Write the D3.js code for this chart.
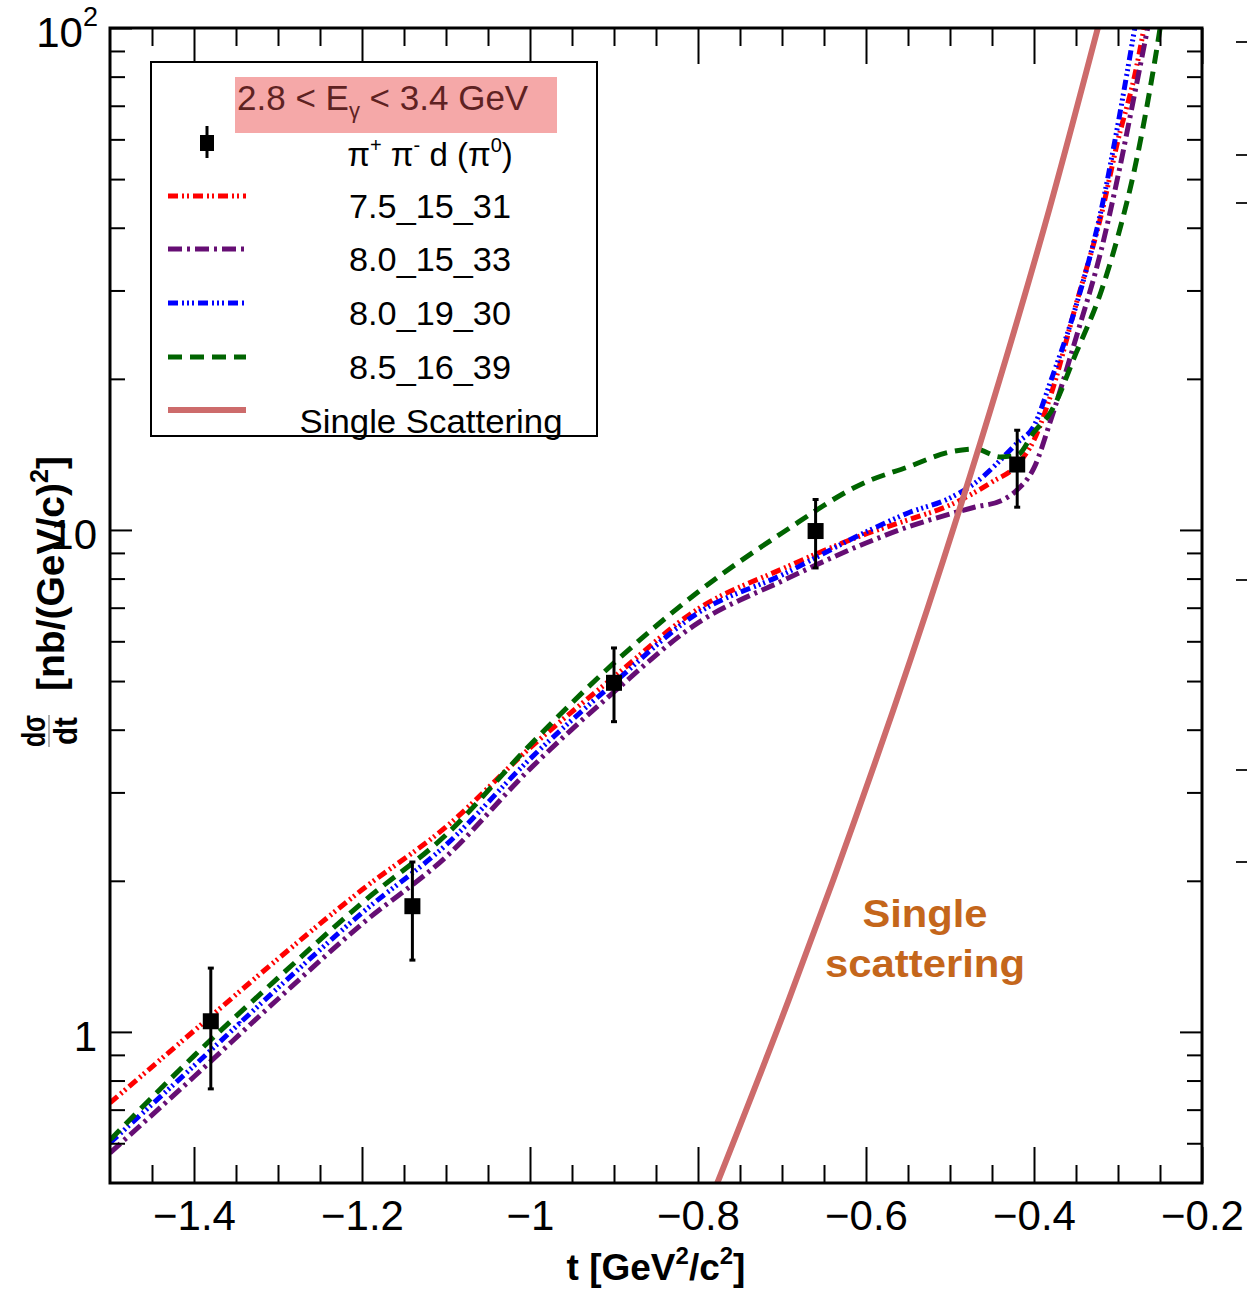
<!DOCTYPE html>
<html>
<head>
<meta charset="utf-8">
<script src="https://cdn.jsdelivr.net/npm/d3@7"></script>
<style>
  body { margin: 0; background: #fff; }
  svg { display: block; }
</style>
</head>
<body>
<div id="chart"></div>
<script>
// --- data ---
const tDomain = [-1.5, -0.2];
const yDomain = [0.5, 100];

const xTickValues = [-1.4, -1.2, -1, -0.8, -0.6, -0.4, -0.2];
const xTickLabels = ["\u22121.4", "\u22121.2", "\u22121", "\u22120.8", "\u22120.6", "\u22120.4", "\u22120.2"];
const yTickValues = [1, 10, 100];

// measured points pi+ pi- d (pi0)
const dataT = [-1.38, -1.14, -0.90, -0.66, -0.42];
const dataY = [1.05, 1.78, 4.96, 9.95, 13.5];
const dataLo = [0.77, 1.39, 4.15, 8.4, 11.1];
const dataHi = [1.34, 2.18, 5.82, 11.5, 15.8];

// model curves [t, dsigma/dt]
const model_7_5_15_31 = [[-1.5,0.722],[-1.4,1.005],[-1.3,1.398],[-1.2,1.919],[-1.1,2.561],[-1.0,3.679],[-0.9,5.096],[-0.8,6.96],[-0.7,8.36],[-0.6,9.82],[-0.55,10.47],[-0.5,11.21],[-0.45,12.46],[-0.42,13.48],[-0.4,15.11],[-0.38,18.57],[-0.35,28.1],[-0.32,42.4],[-0.3,59.8],[-0.28,80.6],[-0.26,121.8]];
const model_8_0_15_33 = [[-1.5,0.574],[-1.4,0.814],[-1.3,1.163],[-1.2,1.641],[-1.1,2.232],[-1.0,3.342],[-0.9,4.757],[-0.8,6.53],[-0.7,7.91],[-0.6,9.42],[-0.55,10.14],[-0.5,10.76],[-0.47,11.11],[-0.44,11.42],[-0.42,12.02],[-0.4,13.29],[-0.38,16.56],[-0.35,24.13],[-0.32,36.1],[-0.3,50.7],[-0.28,74.2],[-0.26,109.6]];
const model_8_0_19_30 = [[-1.5,0.601],[-1.4,0.856],[-1.3,1.224],[-1.2,1.726],[-1.1,2.358],[-1.0,3.498],[-0.9,4.958],[-0.8,6.834],[-0.7,8.136],[-0.6,9.91],[-0.55,10.81],[-0.5,11.58],[-0.47,12.41],[-0.42,14.91],[-0.4,16.12],[-0.38,19.81],[-0.35,27.94],[-0.32,43.4],[-0.3,64.4],[-0.28,100],[-0.26,156.7]];
const model_8_5_16_39 = [[-1.5,0.609],[-1.4,0.896],[-1.3,1.281],[-1.2,1.807],[-1.1,2.469],[-1.0,3.73],[-0.9,5.433],[-0.8,7.52],[-0.7,9.86],[-0.6,12.46],[-0.55,13.35],[-0.5,14.3],[-0.47,14.5],[-0.44,13.98],[-0.42,14.1],[-0.4,15.67],[-0.38,17.18],[-0.35,22.5],[-0.32,29.9],[-0.3,38.5],[-0.28,52.6],[-0.26,78.8],[-0.241,124.6]];
const singleScattering = [[-0.777,0.5],[-0.692,1.158],[-0.639,2.008],[-0.508,8.71],[-0.441,19.9],[-0.382,43.4],[-0.324,100]];

const seriesNames = ["7.5_15_31", "8.0_15_33", "8.0_19_30", "8.5_16_39"];

// --- setup ---
const W = 1247, H = 1290;
const FONT = "'Liberation Sans', Arial, Helvetica, sans-serif";
const plot = { left: 110, right: 1202, top: 28, bottom: 1183 };

const x = d3.scaleLinear().domain(tDomain).range([plot.left, plot.right]);
const y = d3.scaleLog().domain(yDomain).range([plot.bottom, plot.top]);

const svg = d3.select("#chart").append("svg")
    .attr("width", W).attr("height", H)
    .style("font-family", FONT);

svg.append("defs").append("clipPath").attr("id", "plotClip")
  .append("rect")
    .attr("x", plot.left).attr("y", plot.top)
    .attr("width", plot.right - plot.left).attr("height", plot.bottom - plot.top);

const series = [
    { data: model_7_5_15_31, color: "#ff0000", dash: "10,4,2,3,2,4" },
    { data: model_8_0_15_33, color: "#660e74", dash: "14,5,3,5" },
    { data: model_8_0_19_30, color: "#0000ff", dash: "10,4,2,3,2,3,2,4" },
    { data: model_8_5_16_39, color: "#006400", dash: "14,8" }
];
const ssColor = "#cd6b6b";

const line = d3.line().x(d => x(d[0])).y(d => y(d[1])).curve(d3.curveMonotoneX);

const gPlot = svg.append("g").attr("clip-path", "url(#plotClip)");

series.forEach(s => {
    gPlot.append("path")
        .attr("d", line(s.data))
        .attr("fill", "none")
        .attr("stroke", s.color)
        .attr("stroke-width", 5)
        .attr("stroke-dasharray", s.dash);
});

gPlot.append("path")
    .attr("d", line(singleScattering))
    .attr("fill", "none")
    .attr("stroke", ssColor)
    .attr("stroke-width", 6);

// data points with error bars
const pts = dataT.map((t, i) => ({ t, v: dataY[i], lo: dataLo[i], hi: dataHi[i] }));
const gPts = gPlot.append("g");
gPts.selectAll("line.err").data(pts).enter().append("line")
    .attr("x1", d => x(d.t)).attr("x2", d => x(d.t))
    .attr("y1", d => y(d.lo)).attr("y2", d => y(d.hi))
    .attr("stroke", "#000").attr("stroke-width", 3);
["lo", "hi"].forEach(k => {
    gPts.selectAll("line.cap" + k).data(pts).enter().append("line")
        .attr("x1", d => x(d.t) - 3).attr("x2", d => x(d.t) + 3)
        .attr("y1", d => y(d[k])).attr("y2", d => y(d[k]))
        .attr("stroke", "#000").attr("stroke-width", 3);
});
gPts.selectAll("rect").data(pts).enter().append("rect")
    .attr("x", d => x(d.t) - 8).attr("y", d => y(d.v) - 8)
    .attr("width", 16).attr("height", 16)
    .attr("fill", "#000");

// --- axes ---
const minorX = d3.range(-1.5, -0.19, 0.05).map(v => +v.toFixed(2))
    .filter(v => v > tDomain[0] + 1e-6 && !xTickValues.some(m => Math.abs(m - v) < 1e-6));
const minorY = [];
[0.1, 1, 10].forEach(dec => d3.range(2, 10).forEach(k => {
    const v = +(k * dec).toFixed(3);
    if (v > yDomain[0] && v < yDomain[1]) minorY.push(v);
}));

function styleAxis(g) {
    g.select(".domain").remove();
    g.selectAll("line").attr("stroke", "#000").attr("stroke-width", 2);
    g.attr("font-family", FONT);
}

// bottom
svg.append("g").attr("transform", `translate(0,${plot.bottom})`)
    .call(d3.axisBottom(x).tickValues(xTickValues).tickSize(-36).tickPadding(17)
        .tickFormat((d, i) => xTickLabels[i]))
    .call(styleAxis)
    .call(g => g.selectAll("text").attr("font-size", 42).attr("fill", "#000"));
svg.append("g").attr("transform", `translate(0,${plot.bottom})`)
    .call(d3.axisBottom(x).tickValues(minorX).tickSize(-18).tickFormat(""))
    .call(styleAxis);
// top
svg.append("g").attr("transform", `translate(0,${plot.top})`)
    .call(d3.axisTop(x).tickValues(xTickValues).tickSize(-36).tickFormat(""))
    .call(styleAxis);
svg.append("g").attr("transform", `translate(0,${plot.top})`)
    .call(d3.axisTop(x).tickValues(minorX).tickSize(-18).tickFormat(""))
    .call(styleAxis);
// left
svg.append("g").attr("transform", `translate(${plot.left},0)`)
    .call(d3.axisLeft(y).tickValues(yTickValues).tickSize(-22).tickFormat(""))
    .call(styleAxis);
svg.append("g").attr("transform", `translate(${plot.left},0)`)
    .call(d3.axisLeft(y).tickValues(minorY).tickSize(-15).tickFormat(""))
    .call(styleAxis);
// right
svg.append("g").attr("transform", `translate(${plot.right},0)`)
    .call(d3.axisRight(y).tickValues(yTickValues).tickSize(-22).tickFormat(""))
    .call(styleAxis);
svg.append("g").attr("transform", `translate(${plot.right},0)`)
    .call(d3.axisRight(y).tickValues(minorY).tickSize(-15).tickFormat(""))
    .call(styleAxis);

// frame
svg.append("rect")
    .attr("x", plot.left).attr("y", plot.top)
    .attr("width", plot.right - plot.left).attr("height", plot.bottom - plot.top)
    .attr("fill", "none").attr("stroke", "#000").attr("stroke-width", 3);

// y tick labels (1, 10, 10^2)
const yLab = svg.append("g").attr("font-size", 42).attr("text-anchor", "end").attr("fill", "#000");
yLab.append("text").attr("x", 97).attr("y", y(1) + 19).text("1");
yLab.append("text").attr("x", 97).attr("y", y(10) + 19).text("10");
const t100 = yLab.append("text").attr("x", 98).attr("y", y(100) + 19);
t100.append("tspan").text("10");
t100.append("tspan").attr("font-size", 27).attr("dy", -21).text("2");

// neighbouring panel fragment at the right edge
const neighbourTickY = [42, 155, 203, 580, 770, 862];
svg.append("g").selectAll("line").data(neighbourTickY).enter().append("line")
    .attr("x1", 1236).attr("x2", 1247).attr("y1", d => d).attr("y2", d => d)
    .attr("stroke", "#222").attr("stroke-width", 2);

// axis titles
const xt = svg.append("text")
    .attr("x", (plot.left + plot.right) / 2).attr("y", 1280)
    .attr("text-anchor", "middle").attr("font-size", 37).attr("font-weight", "bold");
xt.append("tspan").text("t [GeV");
xt.append("tspan").attr("font-size", 24).attr("dy", -16).text("2");
xt.append("tspan").attr("dy", 16).text("/c");
xt.append("tspan").attr("font-size", 24).attr("dy", -16).text("2");
xt.append("tspan").attr("dy", 16).text("]");

const yt = svg.append("g").attr("transform", "translate(66,748) rotate(-90)")
    .attr("font-weight", "bold");
yt.append("text").attr("x", 17).attr("y", -21).attr("text-anchor", "middle")
    .attr("font-size", 33).attr("textLength", 32).attr("lengthAdjust", "spacingAndGlyphs").text("d\u03c3");
yt.append("line").attr("x1", 1).attr("x2", 33).attr("y1", -17).attr("y2", -17)
    .attr("stroke", "#999").attr("stroke-width", 1.5);
yt.append("text").attr("x", 17).attr("y", 11).attr("text-anchor", "middle")
    .attr("font-size", 33).attr("textLength", 28).attr("lengthAdjust", "spacingAndGlyphs").text("dt");
const ytt = yt.append("text").attr("x", 57).attr("y", -2).attr("font-size", 39);
ytt.append("tspan").text("[nb/(GeV/c)");
ytt.append("tspan").attr("font-size", 25).attr("dy", -16).text("2");
ytt.append("tspan").attr("dy", 16).text("]");

// annotation
const ann = svg.append("g").attr("font-weight", "bold").attr("fill", "#c4661b")
    .attr("text-anchor", "middle").attr("font-size", 39);
ann.append("text").attr("x", 925).attr("y", 927).attr("textLength", 125)
    .attr("lengthAdjust", "spacingAndGlyphs").text("Single");
ann.append("text").attr("x", 925).attr("y", 977).attr("textLength", 200)
    .attr("lengthAdjust", "spacingAndGlyphs").text("scattering");

// --- legend ---
const leg = svg.append("g");
leg.append("rect").attr("x", 151).attr("y", 62).attr("width", 446).attr("height", 374)
    .attr("fill", "#fff").attr("stroke", "#000").attr("stroke-width", 2);
leg.append("rect").attr("x", 235).attr("y", 77).attr("width", 322).attr("height", 56)
    .attr("fill", "#f5a8a8");
const hdr = leg.append("text").attr("x", 237).attr("y", 110).attr("font-size", 35)
    .attr("fill", "#5e2222");
hdr.append("tspan").text("2.8 < E");
hdr.append("tspan").attr("font-size", 22).attr("dy", 8).text("\u03b3");
hdr.append("tspan").attr("dy", -8).text(" < 3.4 GeV");

// marker sample
leg.append("line").attr("x1", 207).attr("x2", 207).attr("y1", 126).attr("y2", 158)
    .attr("stroke", "#000").attr("stroke-width", 3);
leg.append("rect").attr("x", 200).attr("y", 135).attr("width", 14).attr("height", 16).attr("fill", "#000");
const pl = leg.append("text").attr("x", 430).attr("y", 166).attr("font-size", 33)
    .attr("text-anchor", "middle");
pl.append("tspan").text("\u03c0");
pl.append("tspan").attr("font-size", 20).attr("dy", -14).text("+");
pl.append("tspan").attr("dy", 14).text(" \u03c0");
pl.append("tspan").attr("font-size", 20).attr("dy", -14).text("-");
pl.append("tspan").attr("dy", 14).text(" d (\u03c0");
pl.append("tspan").attr("font-size", 20).attr("dy", -14).text("0");
pl.append("tspan").attr("dy", 14).text(")");

const legRows = [196, 249, 303, 357];
series.forEach((s, i) => {
    leg.append("line").attr("x1", 168).attr("x2", 246).attr("y1", legRows[i]).attr("y2", legRows[i])
        .attr("stroke", s.color).attr("stroke-width", 5).attr("stroke-dasharray", s.dash);
    leg.append("text").attr("x", 430).attr("y", legRows[i] + 22).attr("font-size", 33)
        .attr("text-anchor", "middle").attr("textLength", 162).attr("lengthAdjust", "spacingAndGlyphs")
        .text(seriesNames[i]);
});
leg.append("line").attr("x1", 168).attr("x2", 246).attr("y1", 410).attr("y2", 410)
    .attr("stroke", ssColor).attr("stroke-width", 6);
leg.append("text").attr("x", 431).attr("y", 433).attr("font-size", 33)
    .attr("text-anchor", "middle").attr("textLength", 263).attr("lengthAdjust", "spacingAndGlyphs")
    .text("Single Scattering");
</script>
</body>
</html>
